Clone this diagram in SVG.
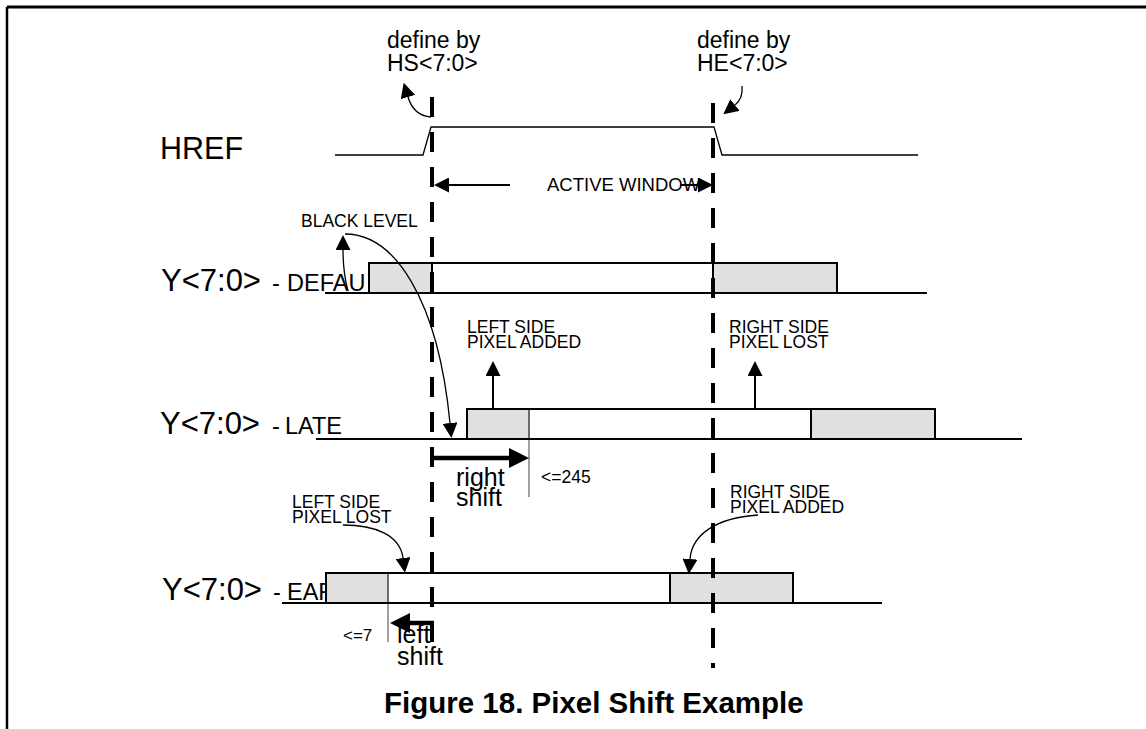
<svg xmlns="http://www.w3.org/2000/svg" width="1146" height="729" viewBox="0 0 1146 729">
<style>
text{font-family:"Liberation Sans",Arial,sans-serif;fill:#000}
.sm{font-size:17.5px}
.big{font-size:31px}
.mid{font-size:23.5px}
.wave{fill:none;stroke:#000;stroke-width:1.3}
.lvl{fill:none;stroke:#000;stroke-width:2}
.g{fill:#e0e0e0;stroke:#000;stroke-width:2}
.w{fill:#fff;stroke:#000;stroke-width:2}
.gl{stroke:#888;stroke-width:1.6}
.dash{stroke:#000;stroke-width:4;stroke-dasharray:20 15;fill:none}
.c{fill:none;stroke:#000;stroke-width:1.3}
.t{fill:none;stroke:#000;stroke-width:2}
.k{fill:none;stroke:#000;stroke-width:4.5}
</style>
<defs>
<marker id="ah" viewBox="0 0 10 10" refX="0" refY="5" markerWidth="15" markerHeight="15" markerUnits="userSpaceOnUse" orient="auto"><path d="M0,0 L10,5 L0,10 z" fill="#000"/></marker>
<marker id="ahb" viewBox="0 0 10 10" refX="0" refY="5" markerWidth="20" markerHeight="20" markerUnits="userSpaceOnUse" orient="auto"><path d="M0,0 L10,5 L0,10 z" fill="#000"/></marker>
</defs>
<rect width="1146" height="729" fill="#fff"/>
<g id="frame">
<line x1="7" y1="7" x2="1146" y2="7" stroke="#000" stroke-width="3"/>
<line x1="7" y1="7" x2="7" y2="729" stroke="#000" stroke-width="2.5"/>
</g>
<g id="href">
<text x="160" y="159" style="font-size:30.5px">HREF</text>
<polyline class="wave" points="335,155 423,155 431,127 714,127 722,155 918,155"/>
</g>
<g id="hs-label">
<text x="387" y="48" style="font-size:23px">define by</text>
<text x="387" y="71" style="font-size:23px">HS&lt;7:0&gt;</text>
</g>
<g id="he-label">
<text x="697" y="48" style="font-size:23px">define by</text>
<text x="697" y="71" style="font-size:23px">HE&lt;7:0&gt;</text>
</g>
<g id="active-window">
<text x="547" y="191" style="font-size:18.5px">ACTIVE WINDOW</text>
</g>
<g id="black-level">
<text x="301" y="227" class="sm">BLACK LEVEL</text>
</g>
<g id="y-default">
<text x="161" y="291" class="big">Y&lt;7:0&gt;</text>
<text x="272" y="291" class="mid">-</text>
<text x="287" y="291" class="mid">DEFAU</text>
<rect class="g" x="369" y="263" width="63" height="30"/>
<rect class="w" x="432" y="263" width="281" height="30"/>
<rect class="g" x="713" y="263" width="124" height="30"/>
<line class="lvl" x1="325" y1="293" x2="927" y2="293"/>
</g>
<g id="y-late">
<text x="160" y="434" class="big">Y&lt;7:0&gt;</text>
<text x="272" y="434" class="mid">-</text>
<text x="285" y="434" class="mid">LATE</text>
<rect class="g" x="467" y="409" width="62" height="30"/>
<rect class="w" x="529" y="409" width="282" height="30"/>
<rect class="g" x="811" y="409" width="124" height="30"/>
<line class="gl" x1="529" y1="410" x2="529" y2="497"/>
<line class="lvl" x1="316" y1="439" x2="1022" y2="439"/>
</g>
<g id="y-early">
<text x="162" y="600" class="big">Y&lt;7:0&gt;</text>
<text x="273" y="600" class="mid">-</text>
<text x="287" y="600" class="mid">EAR</text>
<rect class="g" x="326" y="573" width="62" height="30"/>
<rect class="w" x="388" y="573" width="282" height="30"/>
<rect class="g" x="670" y="573" width="123" height="30"/>
<line class="gl" x1="388" y1="574" x2="388" y2="642"/>
<line class="lvl" x1="282" y1="603" x2="882" y2="603"/>
</g>
<g id="late-left-note">
<text x="467" y="333" class="sm">LEFT SIDE</text>
<text x="467" y="348" class="sm">PIXEL ADDED</text>
</g>
<g id="late-right-note">
<text x="729" y="333" class="sm">RIGHT SIDE</text>
<text x="729" y="348" class="sm">PIXEL LOST</text>
</g>
<g id="right-shift-label">
<text x="456" y="486" style="font-size:25px">right</text>
<text x="456" y="506" style="font-size:25px">shift</text>
<text x="541" y="483" style="font-size:17.5px">&lt;=245</text>
</g>
<g id="early-left-note">
<text x="292" y="508" class="sm">LEFT SIDE</text>
<text x="292" y="523" class="sm">PIXEL LOST</text>
</g>
<g id="early-right-note">
<text x="730" y="498" class="sm">RIGHT SIDE</text>
<text x="730" y="513" class="sm">PIXEL ADDED</text>
</g>
<g id="left-shift-label">
<text x="397" y="643" style="font-size:25px">left</text>
<text x="397" y="665" style="font-size:25px">shift</text>
<text x="343" y="641" style="font-size:17px">&lt;=7</text>
</g>
<g id="guides">
<line class="dash" x1="432" y1="97" x2="432" y2="645"/>
<line class="dash" x1="713" y1="103" x2="713" y2="668"/>
</g>
<g id="connectors">
<path class="c" d="M431,117 C418,116 411,107 408,97" marker-end="url(#ah)"/>
<path class="c" d="M742,86 C743,96 740,101 735,105" marker-end="url(#ah)"/>
<path class="t" d="M510,185 L449,185" marker-end="url(#ah)"/>
<path class="t" d="M680,185 L698,185" marker-end="url(#ah)"/>
<path class="c" d="M348,291 C344,276 343,262 343,250" marker-end="url(#ah)"/>
<path class="c" d="M345,234 C395,234 438,300 450,423" marker-end="url(#ah)"/>
<path class="t" d="M493,408 L493,376" marker-end="url(#ah)"/>
<path class="t" d="M755,408 L755,376" marker-end="url(#ah)"/>
<path class="k" d="M432,458 L509,458" marker-end="url(#ahb)"/>
<path class="c" d="M343,525 C375,525 400,535 403,558" marker-end="url(#ah)"/>
<path class="c" d="M758,515 C715,518 692,535 690,559" marker-end="url(#ah)"/>
<path class="k" d="M434,623 L410,623" marker-end="url(#ahb)"/>
</g>
<g id="caption">
<text x="384" y="713" style="font-size:29.5px;font-weight:bold">Figure 18. Pixel Shift Example</text>
</g>
</svg>
